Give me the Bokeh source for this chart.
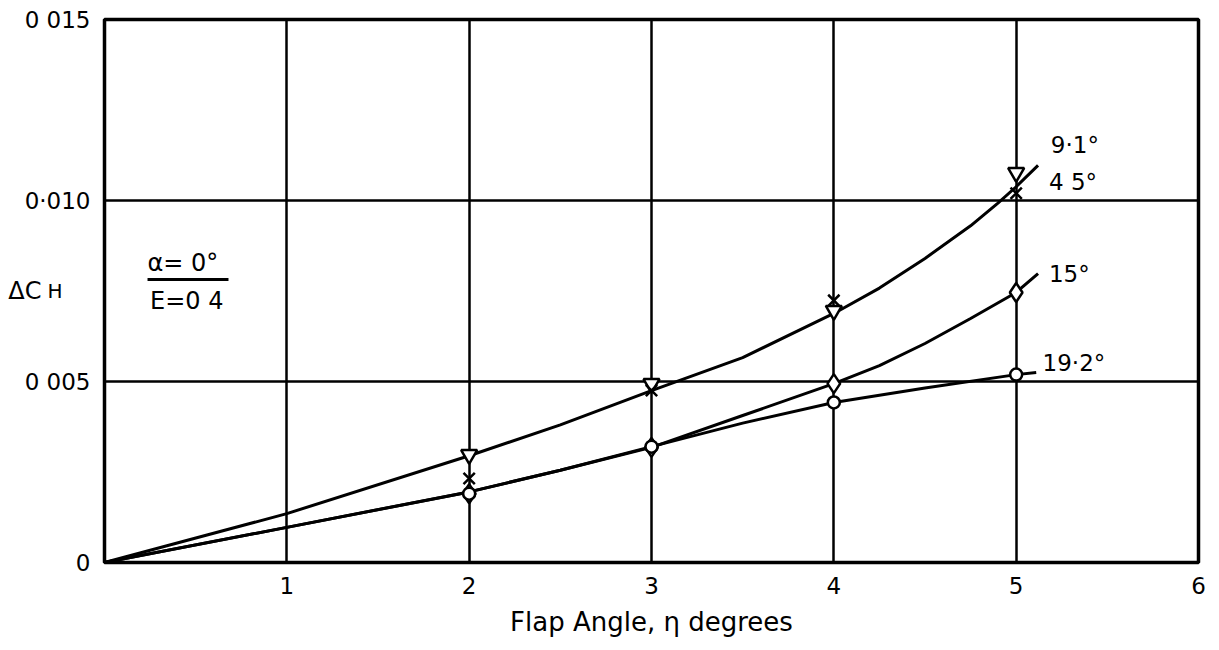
from bokeh.plotting import figure
from bokeh.models import Range1d, FixedTicker, Label, LinearAxis
from bokeh.embed import file_html
from bokeh.resources import INLINE

# measured points
flap_angle = [2, 3, 4, 5]
dch_9_1 = [0.00298, 0.00494, 0.00696, 0.01077]
dch_4_5 = [0.00232, 0.00475, 0.00724, 0.01020]
dch_15 = [0.00190, 0.00318, 0.00494, 0.00746]
dch_19_2 = [0.00190, 0.00320, 0.00442, 0.00519]

# faired curves
curve_a_x = [0, 1, 2, 2.5, 3, 3.5, 4, 4.25, 4.5, 4.75, 4.9, 5, 5.12]
curve_a_y = [0, 0.00135, 0.00295, 0.0038, 0.00475, 0.00566, 0.00688, 0.00758,
             0.0084, 0.0093, 0.00993, 0.01038, 0.01097]
curve_15_x = [0, 1, 2, 2.5, 3, 3.5, 4, 4.25, 4.5, 4.75, 5, 5.12]
curve_15_y = [0, 0.00097, 0.00195, 0.00255, 0.00318, 0.00406, 0.00494, 0.00544,
              0.00605, 0.00674, 0.00746, 0.00798]
curve_19_x = [0, 1, 2, 2.5, 3, 3.5, 4, 4.5, 5, 5.11]
curve_19_y = [0, 0.00097, 0.00195, 0.00255, 0.0032, 0.00385, 0.00442, 0.00482,
              0.00519, 0.00525]

x_ticks = [1, 2, 3, 4, 5, 6]
y_ticks = [0, 0.005, 0.010, 0.015]
y_tick_labels = ["0", "0 005", "0·010", "0 015"]

FONT = "DejaVu Sans"

p = figure(width=1215, height=642, x_range=Range1d(0, 6), y_range=Range1d(0, 0.015),
           output_backend="svg", toolbar_location=None,
           min_border_left=104, min_border_right=17, min_border_top=19, min_border_bottom=80)

p.background_fill_color = "white"
p.border_fill_color = "white"
p.outline_line_color = "black"
p.outline_line_width = 3.5

for ax in (p.xaxis[0], p.yaxis[0]):
    ax.axis_line_color = None
    ax.major_tick_line_color = None
    ax.minor_tick_line_color = None
    ax.major_label_text_font = FONT
    ax.major_label_text_font_size = "23px"
    ax.major_label_text_color = "black"

p.xaxis.ticker = FixedTicker(ticks=x_ticks)
p.xaxis.major_label_standoff = 8
p.xaxis.axis_label = "Flap Angle, η degrees"
p.xaxis.axis_label_text_font = FONT
p.xaxis.axis_label_text_font_style = "normal"
p.xaxis.axis_label_text_font_size = "26px"
p.xaxis.axis_label_text_color = "black"
p.xaxis.axis_label_standoff = 10

p.yaxis.ticker = FixedTicker(ticks=y_ticks)
p.yaxis.major_label_overrides = {t: s for t, s in zip(y_ticks, y_tick_labels)}
p.yaxis.major_label_standoff = 8

# subscript "H" of the y label, as the main axis label
yax = p.yaxis[0]
yax.axis_label = "H"
yax.axis_label_orientation = "horizontal"
yax.axis_label_text_font = FONT
yax.axis_label_text_font_style = "normal"
yax.axis_label_text_font_size = "20px"
yax.axis_label_text_color = "black"
yax.axis_label_text_baseline = "top"
yax.axis_label_standoff = -41

# "ΔC" on an outer, tick-less left axis
ax2 = LinearAxis(ticker=FixedTicker(ticks=[]), axis_label="ΔC",
                 axis_label_orientation="horizontal",
                 axis_label_text_font=FONT, axis_label_text_font_style="normal",
                 axis_label_text_font_size="24px", axis_label_text_color="black",
                 axis_label_standoff=3, axis_line_color=None,
                 major_tick_line_color=None, minor_tick_line_color=None,
                 major_tick_out=0, major_label_standoff=0)
p.add_layout(ax2, "left")

p.xgrid.ticker = FixedTicker(ticks=[1, 2, 3, 4, 5])
p.ygrid.ticker = FixedTicker(ticks=[0.005, 0.010])
for g in (p.xgrid[0], p.ygrid[0]):
    g.grid_line_color = "black"
    g.grid_line_width = 2.5
    g.grid_line_alpha = 1.0

lw = 3
p.line(curve_a_x, curve_a_y, line_color="black", line_width=lw)
p.line(curve_15_x, curve_15_y, line_color="black", line_width=lw)
p.line(curve_19_x, curve_19_y, line_color="black", line_width=lw)

p.scatter(flap_angle, dch_9_1, marker="inverted_triangle", size=16,
          fill_color="white", line_color="black", line_width=2.5)
p.scatter(flap_angle, dch_4_5, marker="x", size=16, line_color="black", line_width=2.5)
p.scatter(flap_angle, dch_15, marker="diamond", size=19,
          fill_color="white", line_color="black", line_width=2.5)
p.scatter(flap_angle, dch_19_2, marker="circle", size=12,
          fill_color="white", line_color="black", line_width=2.5)

def lab(x, y, t, size="23px", align="left", **kw):
    p.add_layout(Label(x=x, y=y, text=t, text_font=FONT, text_font_size=size,
                       text_baseline="middle", text_align=align, text_color="black", **kw))

lab(5.19, 0.01152, "9·1°")
lab(5.18, 0.0105, "4 5°")
lab(5.18, 0.00798, "15°")
lab(5.145, 0.0055, "19·2°")

lab(0.236, 0.00826, "α= 0°", size="24px")
lab(0.25, 0.00721, "E=0 4", size="24px")
p.line([0.236, 0.68], [0.00782, 0.00782], line_color="black", line_width=3)

open("out.html", "w").write(file_html(p, INLINE))
